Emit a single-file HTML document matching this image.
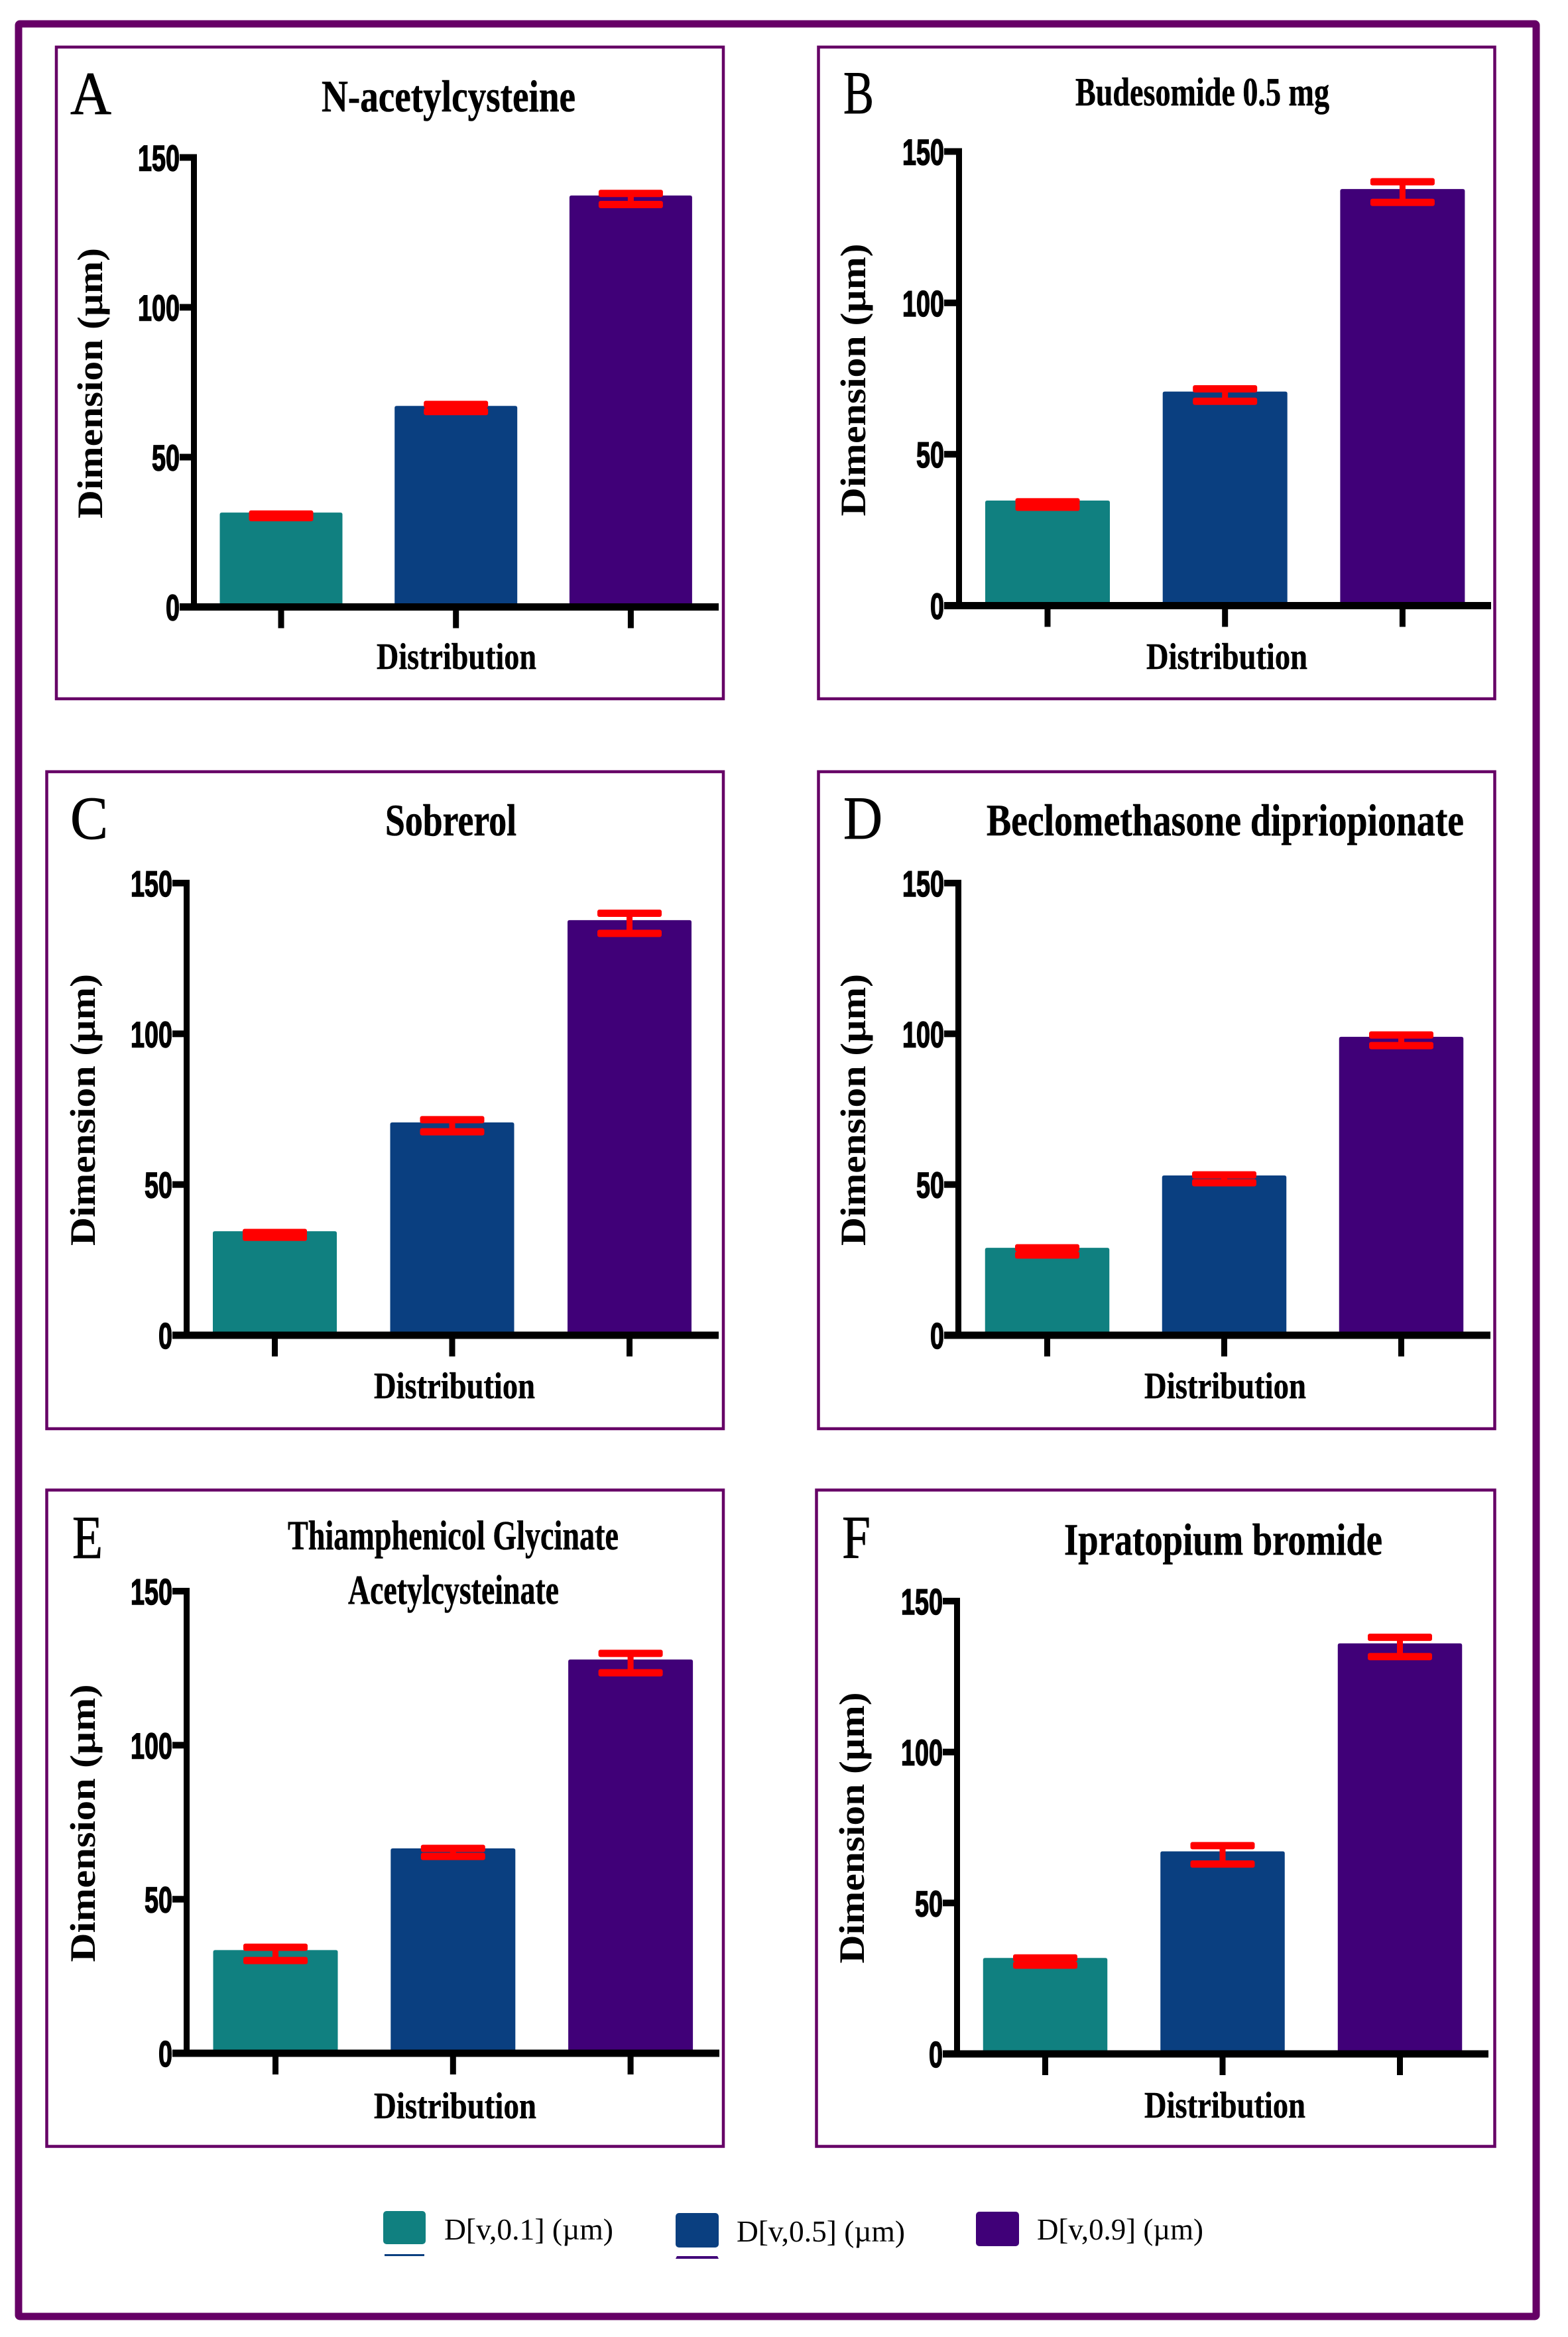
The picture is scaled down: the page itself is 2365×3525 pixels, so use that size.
<!DOCTYPE html>
<html lang="en">
<head>
<meta charset="utf-8">
<title>Particle size distribution charts</title>
<style>
html,body{margin:0;padding:0;background:#fff;width:2365px;height:3525px;overflow:hidden}
svg{display:block}
.letter{font-family:"Liberation Serif",serif;font-size:92px;fill:#000;stroke:#000;stroke-width:0.8}
.title{font-family:"Liberation Serif",serif;font-weight:bold;fill:#000;stroke:#000;stroke-width:0.6}
.ytitle{font-family:"Liberation Serif",serif;font-weight:bold;font-size:54px;fill:#000;text-anchor:middle}
.xtitle{font-family:"Liberation Serif",serif;font-weight:bold;font-size:56px;fill:#000;stroke:#000;stroke-width:0.5}
.tick{font-family:"Liberation Sans",sans-serif;font-weight:bold;font-size:55px;fill:#000;stroke:#000;stroke-width:1.6;text-anchor:end}
.legend{font-family:"Liberation Serif",serif;font-size:45px;fill:#000}
.box{fill:none;stroke:#660066;stroke-width:4.5}
</style>
</head>
<body>
<svg id="figure" xmlns="http://www.w3.org/2000/svg" width="2365" height="3525" viewBox="0 0 2365 3525">
  <rect width="2365" height="3525" fill="#fff"/>
  <rect x="28" y="36" width="2289" height="3458" rx="2" fill="none" stroke="#660066" stroke-width="11"/>

  <g id="panel-a">
    <rect class="box" x="85" y="71" width="1006" height="983"/>
    <text class="letter" x="106" y="172" textLength="62" lengthAdjust="spacingAndGlyphs">A</text>
    <text class="title" x="485" y="168" font-size="68" textLength="383" lengthAdjust="spacingAndGlyphs">N-acetylcysteine</text>
    <text class="ytitle" transform="translate(154,578) rotate(-90)" textLength="408" lengthAdjust="spacingAndGlyphs">Dimension (µm)</text>
    <text class="xtitle" x="568" y="1009" textLength="241" lengthAdjust="spacingAndGlyphs">Distribution</text>
  </g>
  <g id="panel-b">
    <rect class="box" x="1234.5" y="71" width="1020" height="983"/>
    <text class="letter" x="1272" y="171" textLength="46" lengthAdjust="spacingAndGlyphs">B</text>
    <text class="title" x="1622" y="159" font-size="60" textLength="383" lengthAdjust="spacingAndGlyphs">Budesomide 0.5 mg</text>
    <text class="ytitle" transform="translate(1305,573) rotate(-90)" textLength="411" lengthAdjust="spacingAndGlyphs">Dimension (µm)</text>
    <text class="xtitle" x="1729" y="1009" textLength="243" lengthAdjust="spacingAndGlyphs">Distribution</text>
  </g>
  <g id="panel-c">
    <rect class="box" x="70.5" y="1164" width="1020.5" height="991"/>
    <text class="letter" x="106" y="1265" textLength="57" lengthAdjust="spacingAndGlyphs">C</text>
    <text class="title" x="581" y="1260" font-size="68" textLength="198" lengthAdjust="spacingAndGlyphs">Sobrerol</text>
    <text class="ytitle" transform="translate(143,1674) rotate(-90)" textLength="410" lengthAdjust="spacingAndGlyphs">Dimension (µm)</text>
    <text class="xtitle" x="564" y="2109" textLength="243" lengthAdjust="spacingAndGlyphs">Distribution</text>
  </g>
  <g id="panel-d">
    <rect class="box" x="1234.5" y="1164" width="1020" height="991"/>
    <text class="letter" x="1272" y="1265" textLength="59" lengthAdjust="spacingAndGlyphs">D</text>
    <text class="title" x="1488" y="1260" font-size="68" textLength="720" lengthAdjust="spacingAndGlyphs">Beclomethasone dipriopionate</text>
    <text class="ytitle" transform="translate(1305,1674) rotate(-90)" textLength="410" lengthAdjust="spacingAndGlyphs">Dimension (µm)</text>
    <text class="xtitle" x="1726" y="2109" textLength="244" lengthAdjust="spacingAndGlyphs">Distribution</text>
  </g>
  <g id="panel-e">
    <rect class="box" x="70.5" y="2247.5" width="1020.5" height="990"/>
    <text class="letter" x="109" y="2350" textLength="46" lengthAdjust="spacingAndGlyphs">E</text>
    <text class="title" x="434" y="2337" font-size="62" textLength="499" lengthAdjust="spacingAndGlyphs">Thiamphenicol Glycinate</text>
    <text class="title" x="525" y="2419" font-size="62" textLength="318" lengthAdjust="spacingAndGlyphs">Acetylcysteinate</text>
    <text class="ytitle" transform="translate(143,2750) rotate(-90)" textLength="419" lengthAdjust="spacingAndGlyphs">Dimension (µm)</text>
    <text class="xtitle" x="564" y="3195" textLength="245" lengthAdjust="spacingAndGlyphs">Distribution</text>
  </g>
  <g id="panel-f">
    <rect class="box" x="1231.5" y="2247.5" width="1023" height="990"/>
    <text class="letter" x="1270" y="2350" textLength="43" lengthAdjust="spacingAndGlyphs">F</text>
    <text class="title" x="1605" y="2345" font-size="68" textLength="480" lengthAdjust="spacingAndGlyphs">Ipratopium bromide</text>
    <text class="ytitle" transform="translate(1303,2757) rotate(-90)" textLength="409" lengthAdjust="spacingAndGlyphs">Dimension (µm)</text>
    <text class="xtitle" x="1726" y="3194" textLength="243" lengthAdjust="spacingAndGlyphs">Distribution</text>
  </g>

  <g>
    <rect x="578" y="3335" width="64" height="50" rx="5" fill="#108080"/>
    <rect x="580" y="3400" width="60" height="3" fill="#0a3f80"/>
    <text class="legend" x="670" y="3378" textLength="255" lengthAdjust="spacingAndGlyphs">D[v,0.1] (µm)</text>
    <rect x="1019" y="3338" width="65" height="52" rx="5" fill="#0a3f80"/>
    <polygon points="1021,3403 1082,3403 1084,3407 1019,3407" fill="#400078"/>
    <text class="legend" x="1111" y="3381" textLength="254" lengthAdjust="spacingAndGlyphs">D[v,0.5] (µm)</text>
    <rect x="1472" y="3336" width="65" height="52" rx="5" fill="#400078"/>
    <text class="legend" x="1564" y="3378" textLength="251" lengthAdjust="spacingAndGlyphs">D[v,0.9] (µm)</text>
  </g>
</svg>

<script>
// Shared axis data
const categories = ["D[v,0.1]", "D[v,0.5]", "D[v,0.9]"];
const yTickValues = [0, 50, 100, 150];
const yTickLabels = ["0", "50", "100", "150"];

// Panel A: N-acetylcysteine
const valuesA = [31.5, 67.1, 137.3];
const upperA = [31.0, 67.6, 138.0];
const lowerA = [29.8, 65.2, 134.3];
// Panel B: Budesomide 0.5 mg
const valuesB = [34.7, 70.7, 137.6];
const upperB = [34.3, 71.6, 140.0];
const lowerB = [32.5, 67.5, 133.2];
// Panel C: Sobrerol
const valuesC = [34.5, 70.6, 137.7];
const upperC = [34.1, 71.5, 140.0];
const lowerC = [32.5, 67.5, 133.3];
// Panel D: Beclomethasone dipriopionate
const valuesD = [29.0, 53.0, 99.0];
const upperD = [29.0, 53.2, 99.6];
const lowerD = [26.6, 50.6, 96.1];
// Panel E: Thiamphenicol Glycinate Acetylcysteinate
const valuesE = [33.5, 66.5, 127.8];
const upperE = [34.4, 66.5, 129.8];
const lowerE = [30.1, 63.9, 123.5];
// Panel F: Ipratopium bromide
const valuesF = [31.8, 67.1, 136.0];
const upperF = [31.8, 69.0, 138.0];
const lowerF = [29.4, 62.9, 131.6];

const barColors = ["#108080", "#0a3f80", "#400078"];
const yDomainMax = 150;
const NS = "http://www.w3.org/2000/svg";

function make(parent, tag, attrs, text) {
  const el = document.createElementNS(NS, tag);
  for (const k in attrs) el.setAttribute(k, attrs[k]);
  if (text !== undefined) el.textContent = text;
  parent.appendChild(el);
  return el;
}

function drawPanel(id, values, upper, lower, g) {
  const root = document.getElementById(id);
  const yScale = v => g.base - v * (g.base - g.top) / yDomainMax;
  const xScale = i => g.first + i * g.step;

  categories.forEach((cat, i) => {
    const cx = xScale(i);
    const barTop = yScale(values[i]);
    const bar = make(root, "path", {
      d: "M" + (cx - g.barW / 2) + "," + g.base + "V" + (barTop + 3) + "q0,-3 3,-3H" + (cx + g.barW / 2 - 3) + "q3,0 3,3V" + g.base + "Z",
      fill: barColors[i]
    });
    
    

    const hi = yScale(upper[i]);
    const lo = yScale(lower[i]);
    const stem = make(root, "rect", { x: cx - 4.5, y: hi, width: 9, height: Math.max(lo - hi, 0), fill: "#ff0000" });
    
    
    const capHi = make(root, "rect", { x: cx - 48.5, y: hi - 5.5, width: 97, height: 11, rx: 3, fill: "#ff0000" });
    
    
    const capLo = make(root, "rect", { x: cx - 48.5, y: lo - 5.5, width: 97, height: 11, rx: 3, fill: "#ff0000" });
    
    

    const xTick = make(root, "rect", { x: cx - 4.5, y: g.base + 5, width: 9, height: 27, fill: "#000" });
    
    
  });

  const yAxis = make(root, "rect", { x: g.axisX - 4.5, y: g.top - 5, width: 9, height: g.base - g.top + 10, fill: "#000" });
  
  
  const xAxis = make(root, "rect", { x: g.tickStart, y: g.base - 5.5, width: g.xEnd - g.tickStart, height: 11, fill: "#000" });
  
  

  yTickValues.forEach((v, i) => {
    const y = yScale(v);
    const tick = make(root, "rect", { x: g.tickStart, y: y - 5, width: g.axisX - g.tickStart, height: 10, fill: "#000" });
    
    
    const label = make(root, "text", {
      class: "tick",
      x: g.tickStart,
      y: y + 20,
      textLength: yTickLabels[i].length * 21,
      lengthAdjust: "spacingAndGlyphs"
    }, yTickLabels[i]);
    
    
  });
}

drawPanel("panel-a", valuesA, upperA, lowerA, { top: 237.5, base: 915.5, axisX: 292.5, tickStart: 271, xEnd: 1084, first: 424, step: 263.7, barW: 185 });
drawPanel("panel-b", valuesB, upperB, lowerB, { top: 228.5, base: 913.5, axisX: 1446.5, tickStart: 1424, xEnd: 2249, first: 1580, step: 267.7, barW: 188 });
drawPanel("panel-c", valuesC, upperC, lowerC, { top: 1332, base: 2014, axisX: 281.5, tickStart: 260, xEnd: 1084, first: 414.5, step: 267.5, barW: 187 });
drawPanel("panel-d", valuesD, upperD, lowerD, { top: 1332, base: 2014, axisX: 1445.5, tickStart: 1424, xEnd: 2248, first: 1579.5, step: 267, barW: 187.5 });
drawPanel("panel-e", valuesE, upperE, lowerE, { top: 2400, base: 3097, axisX: 281.5, tickStart: 260, xEnd: 1085, first: 415.5, step: 267.8, barW: 188 });
drawPanel("panel-f", valuesF, upperF, lowerF, { top: 2415, base: 3098, axisX: 1443.5, tickStart: 1422, xEnd: 2245, first: 1576.5, step: 267.5, barW: 187.5 });
</script>
</body>
</html>
